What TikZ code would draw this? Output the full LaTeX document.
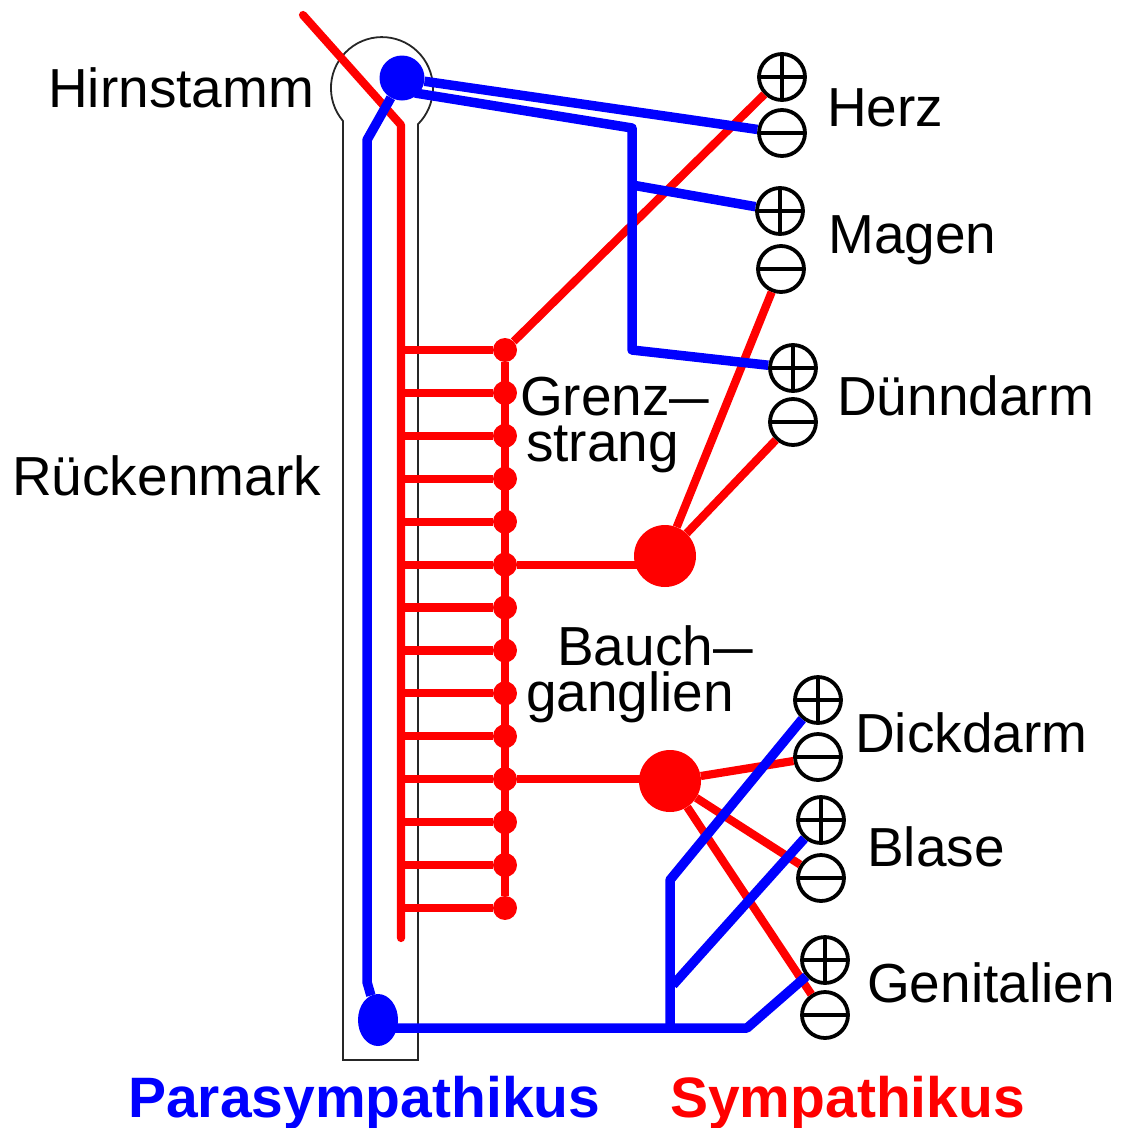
\documentclass[tikz,border=0pt]{standalone}
\usepackage{fontspec}
\setmainfont{Liberation Sans}
\usetikzlibrary{shapes.geometric}
\pgfdeclarelayer{fg}
\pgfsetlayers{main,fg}
\definecolor{pblue}{RGB}{0,0,255}
\definecolor{sred}{RGB}{255,0,0}
\tikzset{
  bl/.style={draw=pblue, line width=9.5pt, line join=round},
  rd/.style={draw=sred, line width=8.2pt, line join=round},
  sym/.style={circle, draw=black, line width=3.8pt, minimum size=46pt, inner sep=0pt, fill=white},
  plussym/.style={sym, path picture={\draw[line width=3.8pt] (path picture bounding box.west) -- (path picture bounding box.east) (path picture bounding box.north) -- (path picture bounding box.south);}},
  minussym/.style={sym, path picture={\draw[line width=3.8pt] (path picture bounding box.west) -- (path picture bounding box.east);}},
  lbl/.style={anchor=base west, inner sep=0pt, font=\fontsize{55}{46}\selectfont},
  lbl2/.style={lbl, align=left},
  title/.style={anchor=base west, inner sep=0pt, font=\fontsize{57}{60}\selectfont\bfseries},
  gdot/.style={circle, fill=sred, minimum size=24pt, inner sep=0pt},
  gang/.style={circle, fill=sred, minimum size=62pt, inner sep=0pt},
}
\newcommand{\sdash}{\scalebox{0.72}[1]{—}}
\begin{document}
\begin{tikzpicture}[x=1pt,y=1pt,yscale=-1]
\useasboundingbox (0,0) rectangle (1122,1128);
% outline of brain stem and spinal cord
\draw[line width=1.8pt, draw=black!85] (343,1060) -- (343,121) arc[start angle=139.8, end angle=405, radius=51] -- (418,1060) -- cycle;

% symbols
\node[plussym]  (hp)  at (782,77)  {};
\node[minussym] (hm)  at (782,133) {};
\node[plussym]  (mp)  at (780,211) {};
\node[minussym] (mm)  at (781,269) {};
\node[plussym]  (dnp) at (793,368) {};
\node[minussym] (dnm) at (793,422) {};
\node[plussym]  (dkp) at (818,700) {};
\node[minussym] (dkm) at (818,757) {};
\node[plussym]  (bp)  at (821,820) {};
\node[minussym] (bm)  at (821,878) {};
\node[plussym]  (gp)  at (825,960) {};
\node[minussym] (gm)  at (825,1015) {};

% red spinal line
\coordinate (rt) at (303,15);
\coordinate (rb) at (401,125);
\coordinate (re) at (401,938);
\draw[rd, line cap=round] (rt) -- (rb) -- (re);

% Grenzstrang
\foreach \k in {0,...,13} {
  \coordinate (s\k) at (401,{350+42.92*\k});
  \node[gdot] (g\k) at (505,{350+42.92*\k}) {};
  \draw[rd] (s\k) -- (g\k);
}
\draw[rd] (g0) -- (g13);
\draw[rd] (g0) -- (hp);

% ganglia
\begin{pgfonlayer}{fg}
\node[gang] (G1) at (665,556) {};
\node[gang] (G2) at (670,781) {};
\end{pgfonlayer}
\draw[rd] (g5) -- (g5 -| G1);
\draw[rd] (G1) -- (mm);
\draw[rd] (G1) -- (dnm);
\draw[rd] (g10) -- (g10 -| G2);
\draw[rd] (G2) -- (dkm);
\draw[rd] (G2) -- (bm);
\draw[rd] (G2) -- (gm);

% blue (parasympathetic)
\node[circle, fill=pblue, minimum size=45pt, inner sep=0pt] (hs) at (402,78) {};
\node[ellipse, fill=pblue, minimum width=40pt, minimum height=52pt, inner sep=0pt] (pb) at (378,1020) {};
\coordinate (bk) at (367,140);
\coordinate (bv) at (367,982);
\draw[bl] (hs) -- (bk) -- (bv) -- (pb);
\draw[bl] (hs) -- (hm);
\coordinate (t1) at (415,93);
\coordinate (tk) at (632,128);
\coordinate (tm) at (632,185);
\coordinate (tb) at (632,350);
\draw[bl] (t1) -- (tk) -- (tb) -- (dnp);
\draw[bl] (tm) -- (mp);
\coordinate (bq) at (378,1028);
\coordinate (bj) at (747,1028);
\coordinate (bx) at (670,1028);
\coordinate (bu) at (670,880);
\coordinate (bm2) at (673,985);
\draw[bl] (bq) -- (bj) -- (gp);
\draw[bl] (bx) -- (bu) -- (dkp);
\draw[bl] (bm2) -- (bp);

% labels
\node[lbl] (lh)  at (48,107)  {Hirnstamm};
\node[lbl] (lr)  at (12,495)  {Rückenmark};
\node[lbl2] (lg) at (520,461) {Grenz\sdash\\\hspace*{6pt}strang};
\node[lbl2] (lb) at (526,711) {\hspace*{31pt}Bauch\sdash\\ganglien};
\node[lbl] (lhz) at (827,126) {Herz};
\node[lbl] (lm)  at (828,253) {Magen};
\node[lbl] (ld)  at (837,415) {Dünndarm};
\node[lbl] (ldk) at (855,752) {Dickdarm};
\node[lbl] (lbs) at (867,866) {Blase};
\node[lbl] (lgn) at (867,1002) {Genitalien};
\node[title, text=pblue] (lp) at (128,1117) {Parasympathikus};
\node[title, text=sred]  (ls) at (670,1117) {Sympathikus};
\end{tikzpicture}
\end{document}
